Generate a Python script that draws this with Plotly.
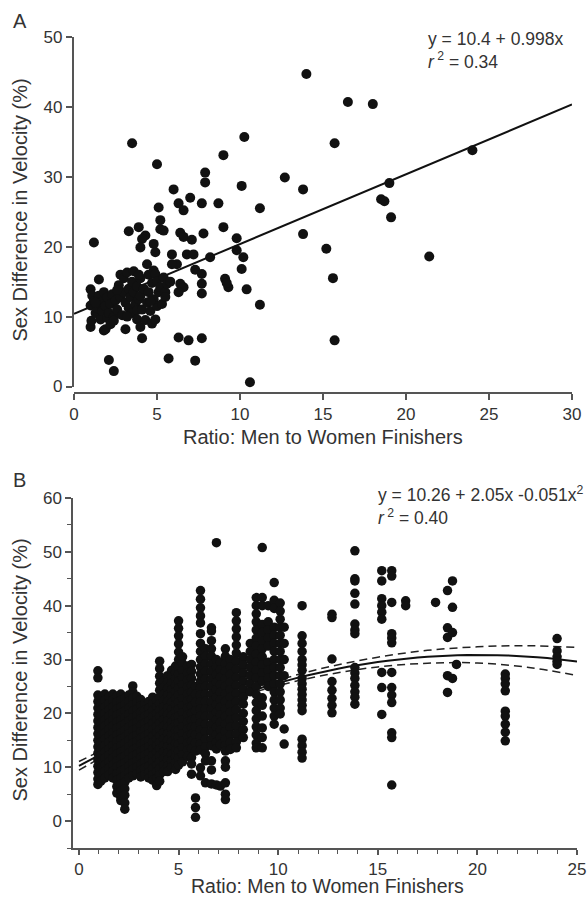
import plotly.graph_objects as go

# ---------------- Panel A data ----------------
a_x = [3.5, 5.0, 9.0, 10.26, 7.9, 7.9, 10.1, 6.0, 7.0, 6.3,
       6.6, 7.7, 8.7, 11.2, 5.1, 5.2, 5.2, 3.9, 3.3, 4.3,
       4.1, 5.4, 6.4, 6.6, 7.1, 7.8, 9.0, 9.8, 9.8, 1.2,
       4.0, 4.8, 4.9, 5.9, 6.8, 7.2, 8.2, 10.2, 6.2, 10.1,
       7.3, 7.7, 7.7, 7.7, 9.1, 9.3, 9.2, 10.4, 11.2, 6.4,
       6.6, 6.3, 6.3, 6.9, 7.7, 5.7, 7.3, 2.1, 2.4, 10.6,
       4.1, 12.7, 14.0, 16.5, 18.0, 15.7, 13.8, 19.0, 18.5, 18.7,
       19.1, 24.0, 13.8, 15.2, 21.4, 15.6, 15.7, 5.9,
       1.0, 1.1, 1.0, 1.0, 1.05, 1.2, 1.3, 1.5, 1.4, 1.5,
       1.6, 1.6, 1.7, 1.8, 1.8, 1.9, 1.9, 2.0, 2.0, 2.1,
       2.2, 2.2, 2.3, 2.4, 2.4, 2.5, 2.6, 2.7, 2.8, 2.8,
       2.9, 3.0, 3.0, 3.1, 3.1, 3.2, 3.3, 3.3, 3.4, 3.5,
       3.5, 3.6, 3.6, 3.7, 3.8, 3.8, 3.8, 3.9, 4.0, 4.0,
       4.0, 4.1, 4.2, 4.3, 4.4, 4.4, 4.5, 4.5, 4.6, 4.7,
       4.7, 4.8, 4.8, 4.9, 4.9, 5.0, 5.0, 5.1, 5.2, 5.3,
       5.4, 5.5, 5.5, 5.6, 5.8, 1.3, 2.6, 3.2, 3.9, 4.6]
a_y = [34.8, 31.8, 33.1, 35.7, 30.6, 29.2, 28.7, 28.2, 27.0, 26.2,
       25.2, 26.2, 26.2, 25.5, 25.6, 23.8, 22.5, 22.8, 22.2, 21.6,
       21.1, 22.3, 22.0, 21.4, 21.0, 21.9, 22.8, 21.2, 19.5, 20.6,
       19.9, 20.4, 19.2, 18.9, 18.9, 18.9, 18.5, 18.5, 17.5, 16.8,
       16.7, 16.1, 14.7, 13.3, 15.4, 14.2, 14.8, 13.9, 11.7, 14.7,
       14.2, 13.5, 7.0, 6.6, 6.9, 4.0, 3.7, 3.8, 2.2, 0.6,
       6.9, 29.9, 44.7, 40.7, 40.4, 34.8, 28.2, 29.1, 26.8, 26.5,
       24.2, 33.8, 21.8, 19.7, 18.6, 15.5, 6.6, 17.5,
       13.9, 13.0, 11.6, 8.5, 9.4, 12.2, 10.5, 15.3, 11.2, 13.0,
       9.6, 12.0, 10.8, 8.0, 13.5, 11.5, 8.2, 9.8, 12.8, 10.5,
       11.8, 8.9, 13.2, 10.0, 9.4, 12.3, 11.0, 14.5, 12.8, 16.0,
       10.2, 13.5, 15.5, 8.2, 12.0, 16.3, 11.2, 14.0, 12.8, 15.0,
       10.5, 16.5, 13.5, 11.8, 10.9, 9.6, 14.3, 12.5, 8.5, 15.5,
       13.0, 11.0, 14.0, 9.5, 12.0, 17.5, 16.0, 13.5, 10.8, 9.0,
       14.8, 16.6, 12.5, 9.6, 16.1, 15.0, 11.5, 13.5, 14.2, 11.8,
       15.6, 13.5, 12.8, 14.7, 15.0, 12.0, 13.8, 10.0, 16.0, 12.2]

a_intercept, a_slope = 10.4, 0.998
a_eq_text = "y = 10.4 + 0.998x"
a_r2_text = "0.34"

# ---------------- Panel B data (columns of points) ----------------
b_col_x = [0.95, 1.1, 1.3, 1.5, 1.7, 1.9, 2.1, 2.3, 2.5, 2.7,
           2.9, 3.1, 3.3, 3.5, 3.7, 3.9, 4.05, 4.25, 4.45, 4.65,
           4.85, 5.0, 5.2, 5.45, 5.65, 5.85, 6.1, 6.35, 6.65, 6.9,
           7.1, 7.35, 7.6, 7.9, 8.25, 8.6, 8.9, 9.2, 9.5, 9.8,
           10.1, 10.3,
           11.2, 12.7, 13.85, 15.2, 15.7, 16.4, 17.9, 18.5, 18.75, 18.95,
           21.4, 24.0]
b_col_y = [
    [27.9, 26.6, 23.4, 22.2, 21.0, 19.8, 18.6, 17.4, 16.2, 15.0, 13.8, 12.6, 11.4, 10.2, 9.0, 7.8, 6.8],
    [23.0, 21.8, 20.6, 19.4, 18.2, 17.0, 15.8, 14.6, 13.4, 12.2, 11.0, 9.8, 8.6, 7.4],
    [23.6, 22.4, 21.2, 20.0, 18.8, 17.6, 16.4, 15.2, 14.0, 12.8, 11.6, 10.4, 9.2, 8.0],
    [23.0, 21.8, 20.6, 19.4, 18.2, 17.0, 15.8, 14.6, 13.4, 12.2, 11.0, 9.8, 8.6],
    [23.6, 22.4, 21.2, 20.0, 18.8, 17.6, 16.4, 15.2, 14.0, 12.8, 11.6, 10.4, 9.2, 8.0],
    [23.2, 22.0, 20.8, 19.6, 18.4, 17.2, 16.0, 14.8, 13.6, 12.4, 11.2, 10.0, 8.8, 7.6, 6.4, 5.2],
    [23.6, 22.4, 21.2, 20.0, 18.8, 17.6, 16.4, 15.2, 14.0, 12.8, 11.6, 10.4, 9.2, 8.0, 6.8, 5.6, 4.4, 3.8],
    [22.8, 21.6, 20.4, 19.2, 18.0, 16.8, 15.6, 14.4, 13.2, 12.0, 10.8, 9.6, 8.4, 7.2, 6.0, 4.8, 3.4, 2.2],
    [23.4, 22.2, 21.0, 19.8, 18.6, 17.4, 16.2, 15.0, 13.8, 12.6, 11.4, 10.2, 9.0, 8.0],
    [25.1, 24.0, 22.8, 21.6, 20.4, 19.2, 18.0, 16.8, 15.6, 14.4, 13.2, 12.0, 10.8, 9.6, 8.4],
    [23.2, 22.0, 20.8, 19.6, 18.4, 17.2, 16.0, 14.8, 13.6, 12.4, 11.2, 10.0, 8.8],
    [22.6, 21.4, 20.2, 19.0, 17.8, 16.6, 15.4, 14.2, 13.0, 11.8, 10.6, 9.4, 8.2],
    [21.8, 20.6, 19.4, 18.2, 17.0, 15.8, 14.6, 13.4, 12.2, 11.0, 9.8, 8.6],
    [22.2, 21.0, 19.8, 18.6, 17.4, 16.2, 15.0, 13.8, 12.6, 11.4, 10.2, 9.0, 8.0],
    [23.0, 21.8, 20.6, 19.4, 18.2, 17.0, 15.8, 14.6, 13.4, 12.2, 11.0, 9.8, 8.6, 7.6],
    [22.4, 21.2, 20.0, 18.8, 17.6, 16.4, 15.2, 14.0, 12.8, 11.6, 10.4, 9.2, 8.0, 6.6],
    [29.7, 28.3, 26.9, 25.6, 24.3, 23.0, 21.8, 20.6, 19.4, 18.2, 17.0, 15.8, 14.6, 13.4, 12.2, 11.0, 9.8, 8.6, 7.4],
    [26.0, 24.8, 23.6, 22.4, 21.2, 20.0, 18.8, 17.6, 16.4, 15.2, 14.0, 12.8, 11.6, 10.4, 9.2],
    [27.0, 25.8, 24.6, 23.4, 22.2, 21.0, 19.8, 18.6, 17.4, 16.2, 15.0, 13.8, 12.6, 11.4, 10.2, 9.2],
    [28.0, 26.8, 25.6, 24.4, 23.2, 22.0, 20.8, 19.6, 18.4, 17.2, 16.0, 14.8, 13.6, 12.4, 11.2, 10.0],
    [28.8, 27.6, 26.4, 25.2, 24.0, 22.8, 21.6, 20.4, 19.2, 18.0, 16.8, 15.6, 14.4, 13.2, 12.0, 10.8, 9.6],
    [37.2, 35.8, 34.4, 32.9, 31.4, 30.0, 28.6, 27.3, 26.0, 24.7, 23.4, 22.1, 20.8, 19.5, 18.2, 16.9, 15.6, 14.3, 13.0, 11.7, 10.4],
    [30.5, 29.2, 27.9, 26.6, 25.3, 24.0, 22.7, 21.4, 20.1, 18.8, 17.5, 16.2, 14.9, 13.6, 12.3, 11.0],
    [28.8, 27.5, 26.2, 24.9, 23.6, 22.3, 21.0, 19.7, 18.4, 17.1, 15.8, 14.5, 13.2, 12.0],
    [29.1, 27.8, 26.5, 25.2, 23.9, 22.6, 21.3, 20.0, 18.7, 17.4, 16.1, 14.8, 13.5, 11.8, 10.6, 8.7],
    [25.0, 23.5, 22.0, 20.5, 19.0, 17.5, 16.0, 14.5, 13.0, 4.3, 2.5, 0.7],
    [42.8, 41.2, 39.6, 38.1, 36.8, 34.8, 33.0, 31.5, 30.0, 28.6, 27.3, 26.0, 24.7, 23.4, 22.1, 20.8, 19.5, 18.2, 16.9, 15.6, 14.3, 13.2, 9.9, 8.4],
    [32.0, 30.6, 29.2, 27.8, 26.4, 25.0, 23.6, 22.2, 20.8, 19.4, 18.0, 16.6, 15.2, 13.8, 12.5, 11.2, 7.1],
    [35.9, 35.3, 33.5, 32.0, 30.6, 29.2, 27.8, 26.4, 25.0, 23.6, 22.2, 20.8, 19.4, 18.0, 16.6, 15.2, 14.0, 11.2, 9.5, 6.9],
    [51.7, 30.0, 28.6, 27.2, 25.8, 24.4, 23.0, 21.6, 20.2, 18.8, 17.4, 16.0, 14.6, 13.4, 6.7],
    [29.5, 28.1, 26.7, 25.3, 23.9, 22.5, 21.1, 19.7, 18.3, 16.9, 15.5, 14.2, 6.5],
    [32.0, 30.6, 29.2, 27.8, 26.4, 25.0, 23.6, 22.2, 20.8, 19.4, 18.0, 16.6, 15.2, 14.0, 13.0, 11.2, 10.0, 7.1, 5.0, 4.0],
    [30.0, 28.6, 27.2, 25.8, 24.4, 23.0, 21.6, 20.2, 18.8, 17.4, 16.0, 14.6, 13.3],
    [38.7, 37.2, 35.7, 34.2, 32.7, 31.2, 29.7, 28.2, 26.7, 25.2, 23.7, 22.2, 20.7, 19.2, 17.7, 16.2, 14.7, 13.6],
    [30.5, 29.0, 27.5, 26.0, 24.5, 23.0, 21.7, 20.0, 18.5, 17.0, 15.5],
    [33.0, 31.5, 30.0, 28.5, 27.0, 25.5, 24.0],
    [41.5, 40.0, 38.5, 37.0, 35.5, 34.0, 32.5, 31.0, 29.5, 28.0, 26.6, 25.0, 23.5, 22.0, 20.5, 19.0, 17.5, 16.0, 14.5, 13.6],
    [50.8, 41.5, 40.0, 36.5, 35.0, 33.5, 32.0, 30.5, 29.0, 27.5, 26.0, 22.9, 21.5, 19.5, 17.3, 15.5, 13.6],
    [40.0, 37.0, 35.5, 34.0, 32.5, 29.5, 28.0, 26.5, 25.0],
    [44.3, 41.0, 39.5, 36.0, 34.5, 33.0, 31.5, 30.0, 28.5, 27.0, 25.5, 24.0, 22.5, 21.0, 19.5, 18.0],
    [40.5, 39.0, 37.5, 36.0, 34.5, 33.0, 31.5, 30.0, 28.5, 27.0, 25.5, 24.0, 22.5, 21.0, 19.9],
    [36.0, 33.0, 30.0, 27.0, 17.1, 14.3],
    [40.0, 34.4, 33.0, 31.5, 30.0, 29.0, 28.0, 26.5, 25.5, 24.5, 23.5, 22.5, 21.5, 20.5, 15.2, 14.0, 12.8, 11.7],
    [38.4, 37.8, 30.1, 25.9, 24.3, 22.8, 21.5, 20.1],
    [50.2, 45.0, 44.6, 42.3, 40.3, 36.6, 35.5, 34.8, 28.5, 27.5, 26.5, 25.2, 24.0, 23.0, 21.7],
    [46.5, 44.6, 41.3, 40.0, 38.8, 37.5, 27.6, 24.8, 19.8],
    [46.5, 45.5, 40.6, 34.8, 34.0, 33.1, 27.6, 24.8, 23.4, 22.0, 16.4, 15.5, 6.7],
    [40.9, 40.0],
    [40.6],
    [42.8, 35.9, 34.1, 27.0, 23.9],
    [44.6, 39.7, 35.0, 26.5],
    [29.1],
    [27.3, 26.5, 25.5, 24.2, 20.4, 19.5, 18.0, 16.5, 14.9],
    [33.9, 31.6, 30.5, 29.7, 29.1],
]

b_coef = (10.26, 2.05, -0.051)
b_eq_text = "y = 10.26 + 2.05x -0.051x<sup>2</sup>"
b_r2_text = "0.40"
band_x = [0, 2.5, 5, 7.5, 10, 12.5, 15, 17.5, 20, 22.5, 25]
band_half = [0.8, 0.5, 0.3, 0.3, 0.5, 0.7, 0.9, 1.2, 1.5, 2.0, 2.6]

# ---------------- derived ----------------
b_x = [cx for cx, ys in zip(b_col_x, b_col_y) for _ in ys]
b_y = [v for ys in b_col_y for v in ys]

def quad(x):
    return b_coef[0] + b_coef[1] * x + b_coef[2] * x * x

a_fit_x = [0, 30]
a_fit_y = [a_intercept + a_slope * v for v in a_fit_x]
b_fit_x = [i * 0.5 for i in range(51)]
b_fit_y = [quad(v) for v in b_fit_x]
band_up = [quad(v) + h for v, h in zip(band_x, band_half)]
band_lo = [quad(v) - h for v, h in zip(band_x, band_half)]

# full-window figure; body margin removed in the page script
W, H = 588, 898
def fx(p):
    return p / W
def fy(p):
    return 1 - p / H

FONT = "Liberation Sans, Arial, sans-serif"
TXT = "#333333"
AX = "#555555"
DOT = "#111111"

fig = go.Figure()

# Panel A
fig.add_trace(go.Scatter(x=a_fit_x, y=a_fit_y, mode="lines",
                         line=dict(color="#111111", width=2),
                         xaxis="x", yaxis="y", showlegend=False, cliponaxis=False))
fig.add_trace(go.Scatter(x=a_x, y=a_y, mode="markers",
                         marker=dict(color=DOT, size=10, line=dict(width=0)),
                         xaxis="x", yaxis="y", showlegend=False, cliponaxis=False))

# Panel B
fig.add_trace(go.Scatter(x=band_x, y=band_up, mode="lines", line_shape="spline",
                         line=dict(color="#222222", width=1.5, dash="8px,5px"),
                         xaxis="x2", yaxis="y2", showlegend=False))
fig.add_trace(go.Scatter(x=band_x, y=band_lo, mode="lines", line_shape="spline",
                         line=dict(color="#222222", width=1.5, dash="8px,5px"),
                         xaxis="x2", yaxis="y2", showlegend=False))
fig.add_trace(go.Scatter(x=b_fit_x, y=b_fit_y, mode="lines",
                         line=dict(color="#111111", width=2),
                         xaxis="x2", yaxis="y2", showlegend=False))
fig.add_trace(go.Scatter(x=b_x, y=b_y, mode="markers",
                         marker=dict(color=DOT, size=9.5, line=dict(width=0)),
                         xaxis="x2", yaxis="y2", showlegend=False, cliponaxis=False))

axis_common = dict(showgrid=False, zeroline=False, showline=True, linecolor=AX,
                   linewidth=1.5, ticks="outside", tickwidth=1.5,
                   tickcolor=AX, tickfont=dict(family=FONT, size=17, color=TXT),
                   automargin=False, ticklabeloverflow="allow")

fig.update_layout(
    width=W, height=H, margin=dict(l=0, r=0, t=0, b=0, pad=0, autoexpand=False),
    paper_bgcolor="white", plot_bgcolor="white",
    xaxis=dict(domain=[fx(74), fx(572)], range=[0, 30], dtick=5, tick0=0,
               anchor="free", position=fy(393), ticklen=6, **axis_common),
    yaxis=dict(domain=[fy(386.5), fy(37)], range=[0, 50], dtick=10, tick0=0,
               anchor="free", position=fx(72.5), ticklen=6, **axis_common),
    xaxis2=dict(domain=[fx(73), fx(577)], range=[-0.3, 25], dtick=5, tick0=0,
                anchor="y2", ticklen=5,
                minor=dict(dtick=1, tick0=0, ticks="outside", ticklen=4,
                           tickwidth=1.2, tickcolor=AX),
                **axis_common),
    yaxis2=dict(domain=[fy(848), fy(498)], range=[-5, 60], dtick=10, tick0=0,
                anchor="x2", ticklen=6,
                minor=dict(dtick=5, tick0=0, ticks="outside", ticklen=4,
                           tickwidth=1.2, tickcolor=AX),
                **axis_common),
)

def note(text, x, y, size, xanchor="left", angle=0):
    fig.add_annotation(text=text, x=fx(x), y=fy(y), xref="paper", yref="paper",
                       xanchor=xanchor, yanchor="middle", align="left",
                       showarrow=False, textangle=angle,
                       font=dict(family=FONT, size=size, color=TXT))

xtitle = "Ratio: Men to Women Finishers"
ytitle = "Sex Difference in Velocity (%)"

note("A", 11, 21, 20)
note("B", 11, 480, 20)
note(xtitle, 323, 437, 20, xanchor="center")
note(xtitle, 327, 886, 19.5, xanchor="center")
note(ytitle, 19.5, 210, 20, xanchor="center", angle=-90)
note(ytitle, 19.5, 670, 20, xanchor="center", angle=-90)
note(a_eq_text + "<br><i>r</i><sup> 2</sup> = " + a_r2_text, 426, 51, 17.5)
note(b_eq_text + "<br><i>r</i><sup> 2</sup> = " + b_r2_text, 376, 505, 17.5)

fig.write_html("out.html", config={"displayModeBar": False},
               post_script="document.body.style.margin='0';")
